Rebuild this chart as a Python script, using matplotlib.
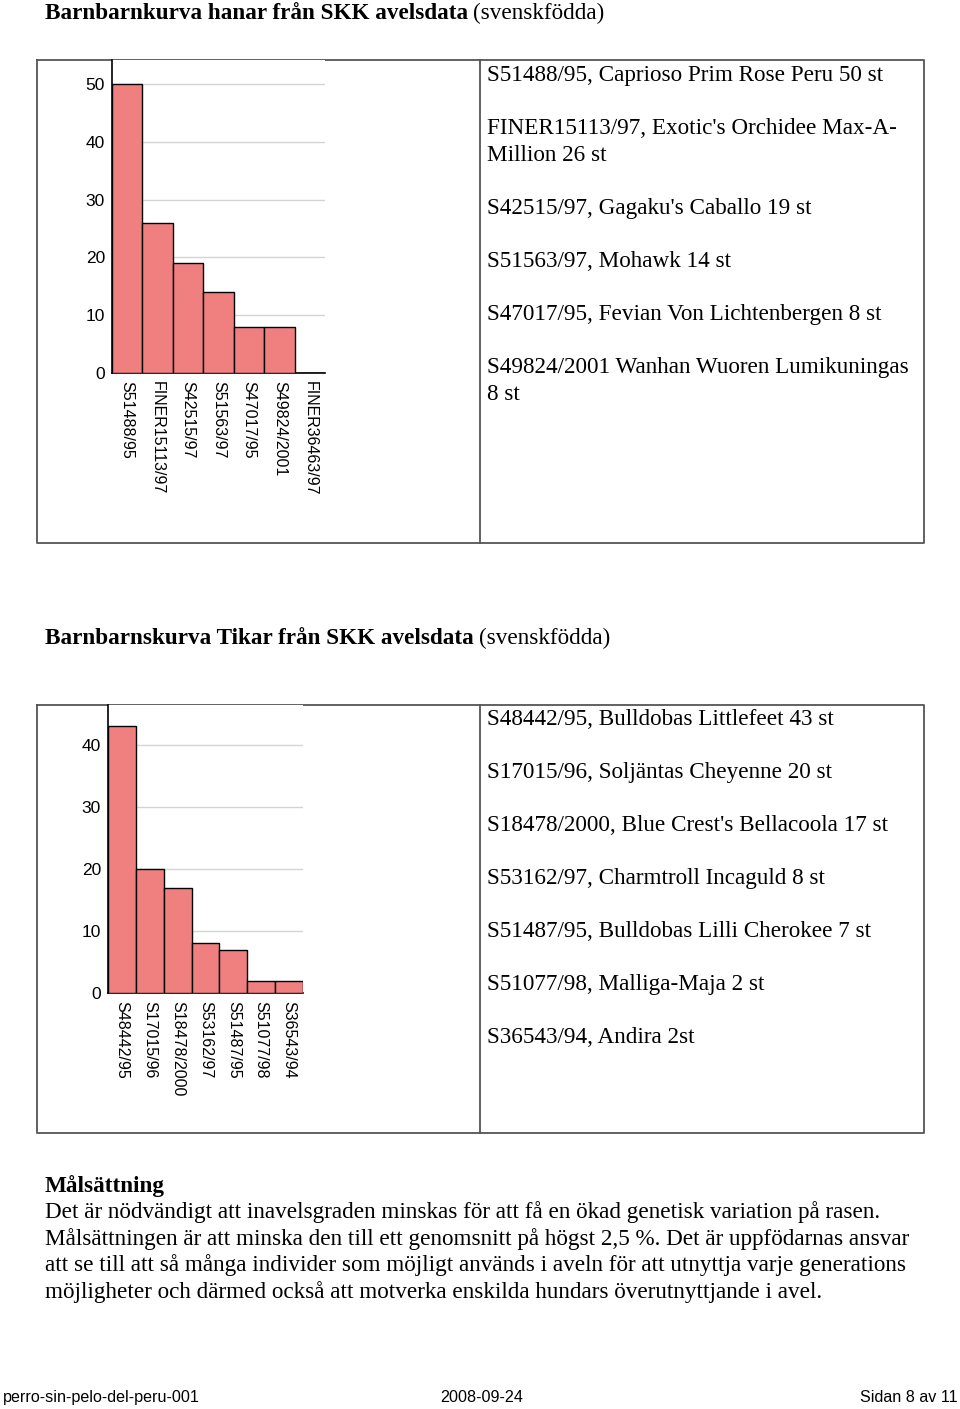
import matplotlib.pyplot as plt

W, H = 960, 1409

# hanar
hanar_ids = ['S51488/95', 'FINER15113/97', 'S42515/97', 'S51563/97', 'S47017/95', 'S49824/2001', 'FINER36463/97']
hanar_antal = [50, 26, 19, 14, 8, 8, 0]
hanar_text = [
    ['S51488/95, Caprioso Prim Rose Peru 50 st'],
    ['FINER15113/97, Exotic\'s Orchidee Max-A-', 'Million 26 st'],
    ['S42515/97, Gagaku\'s Caballo 19 st'],
    ['S51563/97, Mohawk 14 st'],
    ['S47017/95, Fevian Von Lichtenbergen 8 st'],
    ['S49824/2001 Wanhan Wuoren Lumikuningas', '8 st'],
]

# tikar
tikar_ids = ['S48442/95', 'S17015/96', 'S18478/2000', 'S53162/97', 'S51487/95', 'S51077/98', 'S36543/94']
tikar_antal = [43, 20, 17, 8, 7, 2, 2]
tikar_text = [
    ['S48442/95, Bulldobas Littlefeet 43 st'],
    ['S17015/96, Soljäntas Cheyenne 20 st'],
    ['S18478/2000, Blue Crest\'s Bellacoola 17 st'],
    ['S53162/97, Charmtroll Incaguld 8 st'],
    ['S51487/95, Bulldobas Lilli Cherokee 7 st'],
    ['S51077/98, Malliga-Maja 2 st'],
    ['S36543/94, Andira 2st'],
]

malsattning = [
    'Det är nödvändigt att inavelsgraden minskas för att få en ökad genetisk variation på rasen.',
    'Målsättningen är att minska den till ett genomsnitt på högst 2,5 %. Det är uppfödarnas ansvar',
    'att se till att så många individer som möjligt används i aveln för att utnyttja varje generations',
    'möjligheter och därmed också att motverka enskilda hundars överutnyttjande i avel.',
]

SERIF = 'Liberation Serif'
SANS = 'Liberation Sans'
BAR = '#f08080'
FS = 16.7

fig = plt.figure(figsize=(W / 100, H / 100), dpi=100)
page = fig.add_axes([0, 0, 1, 1])
page.set_xlim(0, W)
page.set_ylim(H, 0)
page.axis('off')


def px_axes(l, t, r, b):
    return fig.add_axes([l / W, 1 - b / H, (r - l) / W, (b - t) / H])


def title(y, bold, rest):
    t = page.text(45, y, bold, fontfamily=SERIF, fontweight='bold', fontsize=FS, va='baseline')
    r = fig.canvas.get_renderer()
    bb = t.get_window_extent(renderer=r)
    page.text(bb.x1 + 5, y, rest, fontfamily=SERIF, fontsize=FS, va='baseline')


def table(top, bottom):
    kw = dict(color='#555555', lw=1.3)
    page.plot([37, 924, 924, 37, 37], [top, top, bottom, bottom, top], **kw)
    page.plot([480, 480], [top, bottom], **kw)


def listing(items, y0):
    y = y0
    for lines in items:
        for ln in lines:
            page.text(487, y, ln, fontfamily=SERIF, fontsize=FS, va='baseline')
            y += 27
        y += 26


def bars(ax, ids, vals, ymax, ticks):
    ax.set_facecolor('white')
    ax.bar(range(len(vals)), vals, width=1.0, color=BAR, edgecolor='black', linewidth=1.0, zorder=3)
    ax.set_xlim(-0.5, len(vals) - 0.5)
    ax.set_ylim(0, ymax)
    ax.set_yticks(ticks)
    ax.yaxis.grid(True, color='#d4d4d4', lw=1.0, zorder=0)
    ax.set_axisbelow(True)
    ax.set_xticks(range(len(vals)))
    ax.set_xticklabels(ids, rotation=270, fontfamily=SANS, fontsize=11.5, va='top', ha='center')
    for lab in ax.get_yticklabels():
        lab.set_fontfamily(SANS)
        lab.set_fontsize(12.5)
    ax.tick_params(length=0, pad=5)
    ax.tick_params(axis='x', pad=6)
    for s in ['top', 'right']:
        ax.spines[s].set_visible(False)
    for s in ['left', 'bottom']:
        ax.spines[s].set_color('black')
        ax.spines[s].set_linewidth(1.2)


title(19, 'Barnbarnkurva hanar från SKK avelsdata', '(svenskfödda)')
table(60, 543)
listing(hanar_text, 81)
ax1 = px_axes(112, 60, 325, 373)
bars(ax1, hanar_ids, hanar_antal, 54.15, [0, 10, 20, 30, 40, 50])

title(644, 'Barnbarnskurva Tikar från SKK avelsdata', '(svenskfödda)')
table(705, 1133)
listing(tikar_text, 725)
ax2 = px_axes(108, 705, 303, 993)
bars(ax2, tikar_ids, tikar_antal, 46.45, [0, 10, 20, 30, 40])

page.text(45, 1192, 'Målsättning', fontfamily=SERIF, fontweight='bold', fontsize=FS, va='baseline')
for i, ln in enumerate(malsattning):
    page.text(45, 1218 + i * 26.7, ln, fontfamily=SERIF, fontsize=FS, va='baseline')

page.text(3, 1402, 'perro-sin-pelo-del-peru-001', fontfamily=SANS, fontsize=11.6, va='baseline')
page.text(440, 1402, '2008-09-24', fontfamily=SANS, fontsize=11.6, va='baseline')
page.text(958, 1402, 'Sidan 8 av 11', fontfamily=SANS, fontsize=11.6, va='baseline', ha='right')

fig.savefig('out.png', dpi=100, facecolor='white')
